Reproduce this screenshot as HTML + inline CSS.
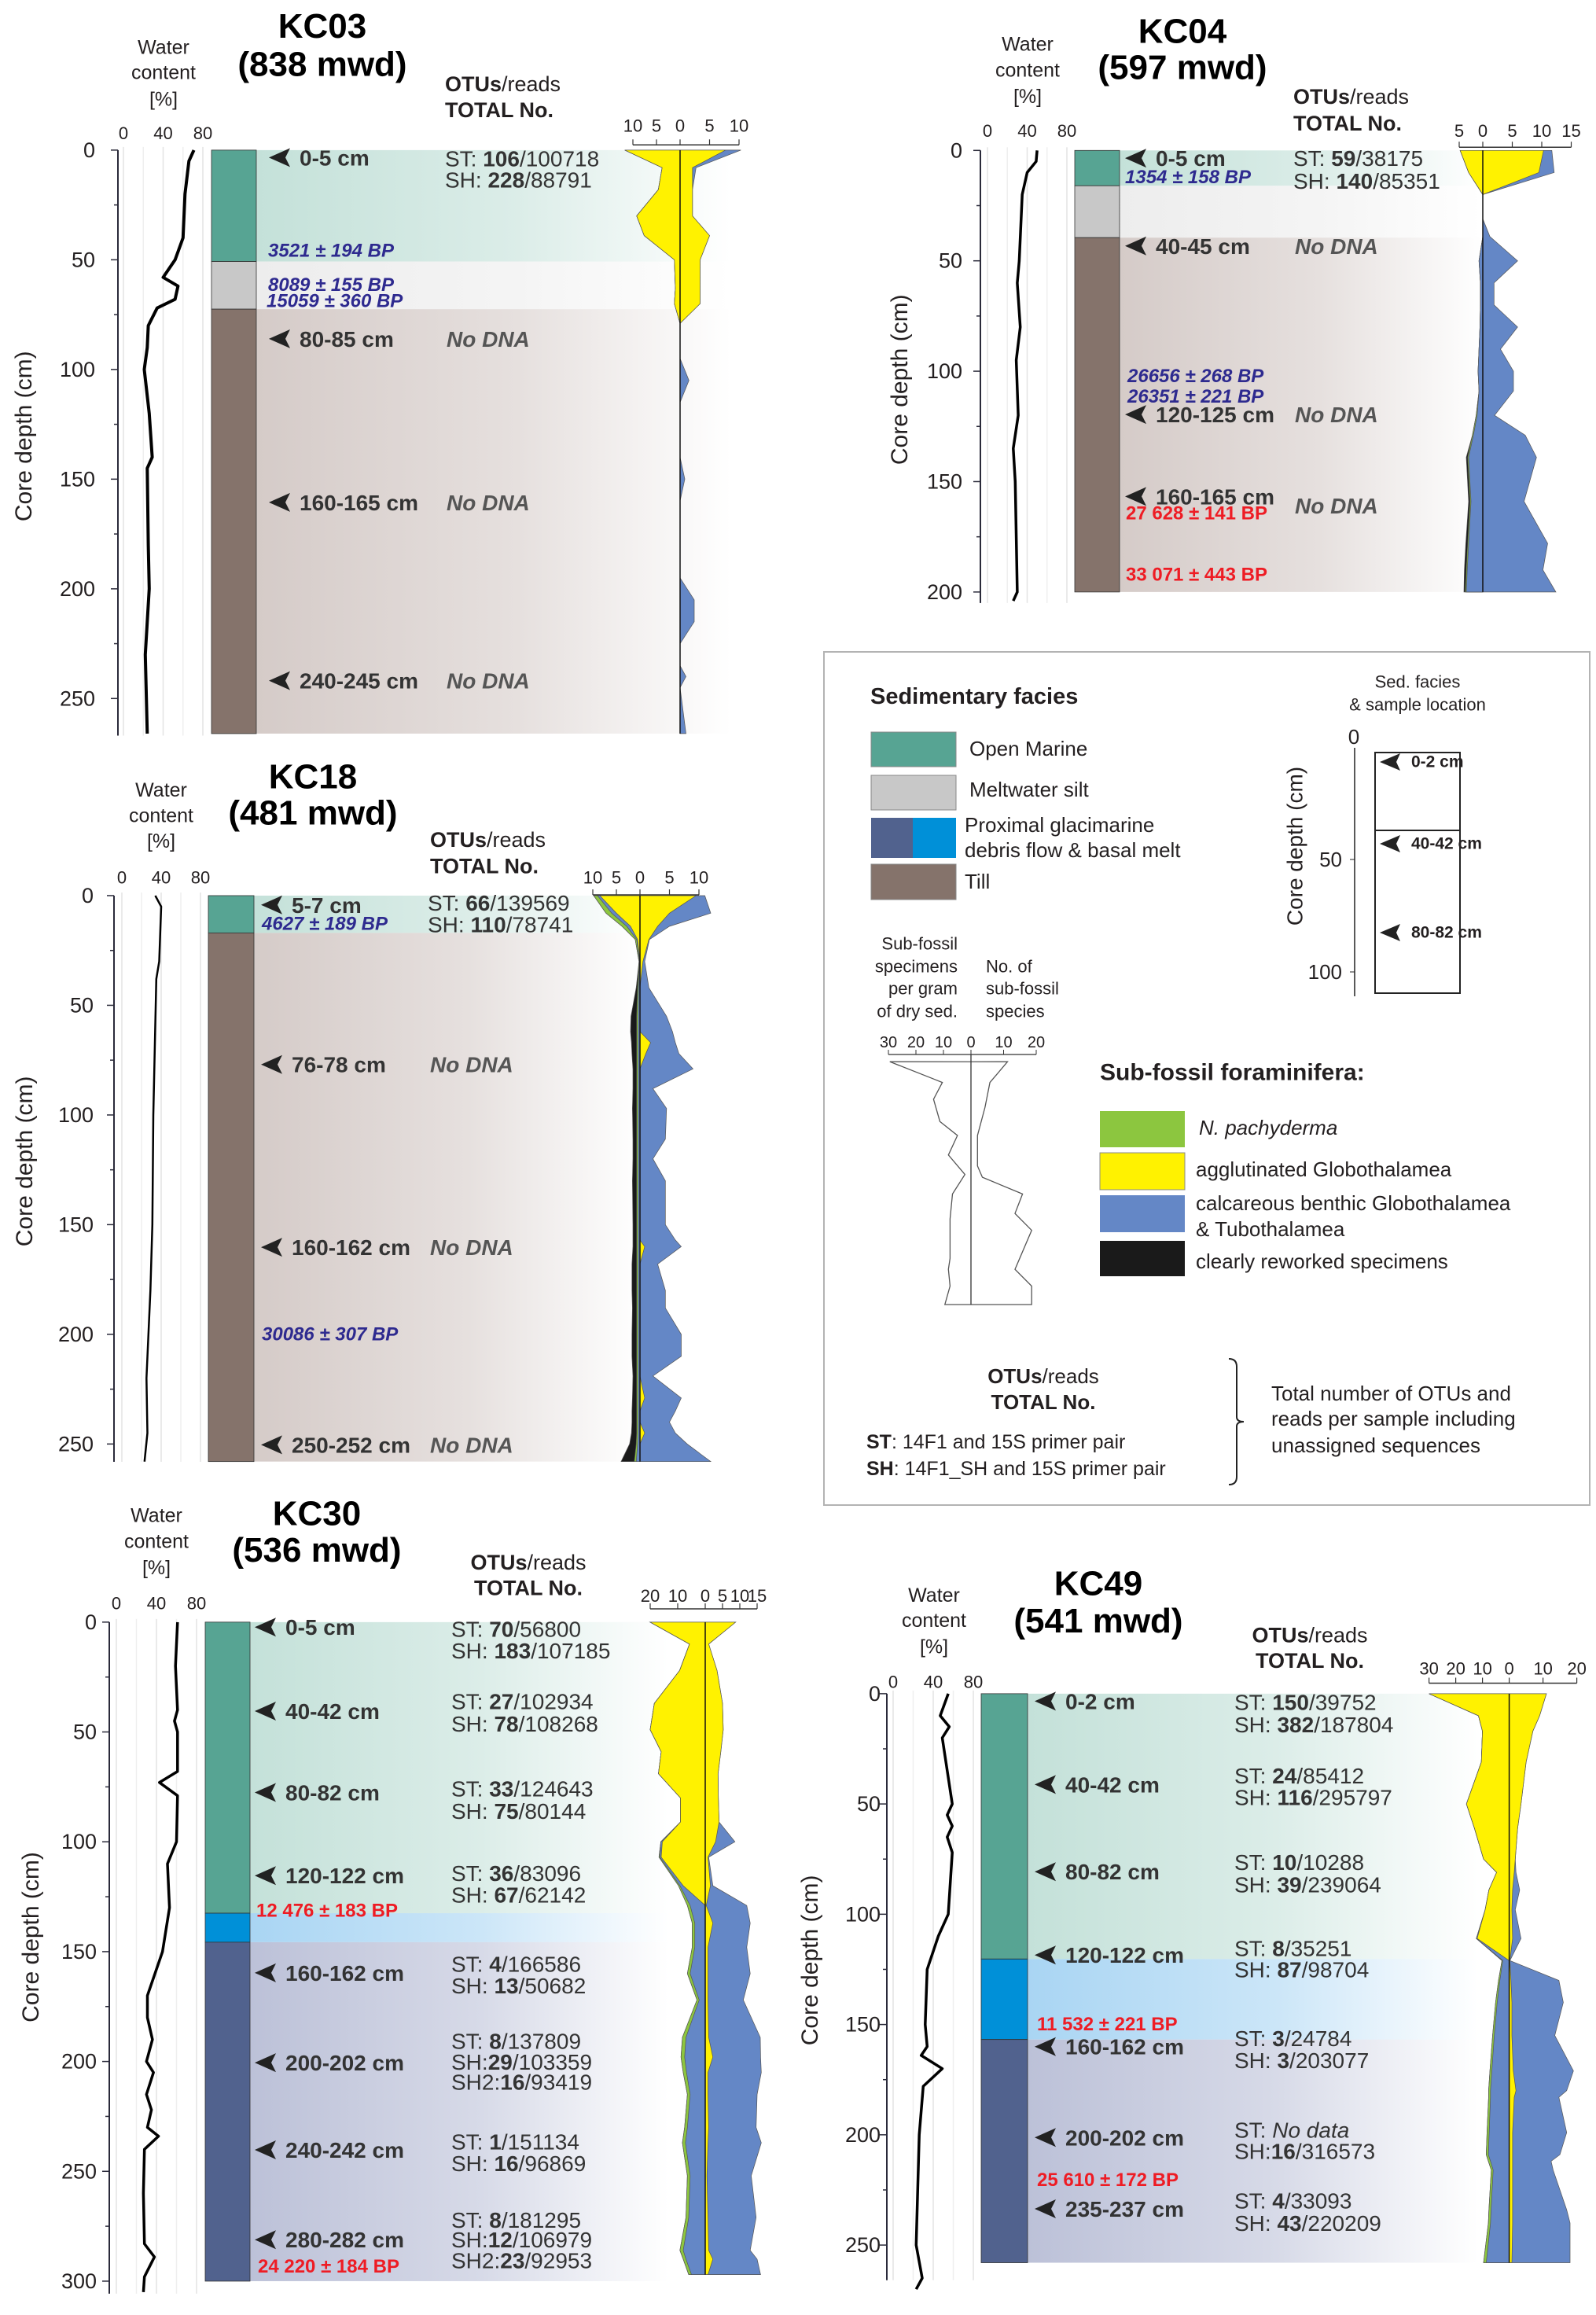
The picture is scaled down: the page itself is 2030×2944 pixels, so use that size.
<!DOCTYPE html>
<html><head><meta charset="utf-8">
<style>body{margin:0;background:#fff}svg{display:block;font-family:"Liberation Sans",Arial,sans-serif}</style>
</head><body>
<svg id="fig" xmlns="http://www.w3.org/2000/svg" width="2030" height="2944" viewBox="0 0 2030 2944">
<defs id="defs"></defs>
<rect x="0" y="0" width="2030" height="2944" fill="#fff"/>
<g id="legend" fill="#231f20">
<rect x="1048" y="829" width="974" height="1085" fill="#fff" stroke="#b3b3b3" stroke-width="2"/>
<text x="1107" y="886" font-size="29" font-weight="bold" dominant-baseline="central">Sedimentary facies</text>
<rect x="1108" y="931" width="108" height="44" fill="#57a493" stroke="#888"/>
<rect x="1108" y="986" width="108" height="44" fill="#c8c8c8" stroke="#888"/>
<rect x="1108" y="1040" width="53" height="51" fill="#51628e"/>
<rect x="1161" y="1040" width="55" height="51" fill="#0090d8"/>
<rect x="1108" y="1099" width="108" height="45" fill="#85736b" stroke="#888"/>
<text x="1233" y="952" font-size="26" dominant-baseline="central">Open Marine</text>
<text x="1233" y="1004" font-size="26" dominant-baseline="central">Meltwater silt</text>
<text x="1227" y="1049" font-size="26" dominant-baseline="central">Proximal glacimarine</text>
<text x="1227" y="1081" font-size="26" dominant-baseline="central">debris flow &amp; basal melt</text>
<text x="1227" y="1121" font-size="26" dominant-baseline="central">Till</text>
<text x="1803" y="867" font-size="22" text-anchor="middle" dominant-baseline="central">Sed. facies</text>
<text x="1803" y="896" font-size="22" text-anchor="middle" dominant-baseline="central">&amp; sample location</text>
<text x="1647" y="1076" font-size="28" text-anchor="middle" dominant-baseline="central" transform="rotate(-90 1647 1076)">Core depth  (cm)</text>
<line x1="1723" y1="951" x2="1723" y2="1267" stroke="#222" stroke-width="1.5"/>
<line x1="1717" y1="1093" x2="1723" y2="1093" stroke="#222"/>
<line x1="1717" y1="1236" x2="1723" y2="1236" stroke="#222"/>
<text x="1722" y="937" font-size="26" text-anchor="middle" dominant-baseline="central">0</text>
<text x="1707" y="1093" font-size="26" text-anchor="end" dominant-baseline="central">50</text>
<text x="1707" y="1236" font-size="26" text-anchor="end" dominant-baseline="central">100</text>
<rect x="1749" y="957" width="108" height="306" fill="none" stroke="#222" stroke-width="2"/>
<line x1="1749" y1="1056" x2="1857" y2="1056" stroke="#222" stroke-width="2"/>
<polygon points="1755,969 1781,958 1776,969 1781,980" fill="#222"/>
<polygon points="1755,1073 1781,1062 1776,1073 1781,1084" fill="#222"/>
<polygon points="1755,1186 1781,1175 1776,1186 1781,1197" fill="#222"/>
<text x="1795" y="969" font-size="21" font-weight="bold" dominant-baseline="central">0-2 cm</text>
<text x="1795" y="1073" font-size="21" font-weight="bold" dominant-baseline="central">40-42 cm</text>
<text x="1795" y="1186" font-size="21" font-weight="bold" dominant-baseline="central">80-82 cm</text>
<g font-size="22" text-anchor="end">
<text x="1218" y="1200" dominant-baseline="central">Sub-fossil</text>
<text x="1218" y="1229" dominant-baseline="central">specimens</text>
<text x="1218" y="1257" dominant-baseline="central">per gram</text>
<text x="1218" y="1286" dominant-baseline="central">of dry sed.</text></g>
<g font-size="22">
<text x="1254" y="1229" dominant-baseline="central">No. of</text>
<text x="1254" y="1257" dominant-baseline="central">sub-fossil</text>
<text x="1254" y="1286" dominant-baseline="central">species</text></g>
<g id="miniChart"></g>
<text x="1399" y="1364" font-size="30" font-weight="bold" dominant-baseline="central">Sub-fossil foraminifera:</text>
<rect x="1399" y="1413" width="108" height="46" fill="#8cc63f"/>
<rect x="1399" y="1466" width="108" height="47" fill="#fff200" stroke="#888"/>
<rect x="1399" y="1520" width="108" height="47" fill="#6487c6"/>
<rect x="1399" y="1578" width="108" height="45" fill="#1a1a1a"/>
<text x="1525" y="1434" font-size="26" font-style="italic" dominant-baseline="central">N. pachyderma</text>
<text x="1521" y="1487" font-size="26" dominant-baseline="central">agglutinated Globothalamea</text>
<text x="1521" y="1530" font-size="26" dominant-baseline="central">calcareous benthic Globothalamea</text>
<text x="1521" y="1563" font-size="26" dominant-baseline="central">&amp; Tubothalamea</text>
<text x="1521" y="1604" font-size="26" dominant-baseline="central">clearly reworked specimens</text>
<text x="1327" y="1750" font-size="26" text-anchor="middle" dominant-baseline="central"><tspan font-weight="bold">OTUs</tspan>/reads</text>
<text x="1327" y="1783" font-size="26" font-weight="bold" text-anchor="middle" dominant-baseline="central">TOTAL No.</text>
<text x="1102" y="1834" font-size="25" dominant-baseline="central"><tspan font-weight="bold">ST</tspan>: 14F1 and 15S primer pair</text>
<text x="1102" y="1868" font-size="25" dominant-baseline="central"><tspan font-weight="bold">SH</tspan>: 14F1_SH and 15S primer pair</text>
<path d="M1563,1728 Q1573,1728 1573,1738 L1573,1802 Q1573,1808 1582,1808 Q1573,1808 1573,1814 L1573,1878 Q1573,1888 1563,1888" fill="none" stroke="#222" stroke-width="2"/>
<text x="1617" y="1772" font-size="26" dominant-baseline="central">Total number of OTUs and</text>
<text x="1617" y="1804" font-size="26" dominant-baseline="central">reads per sample including</text>
<text x="1617" y="1838" font-size="26" dominant-baseline="central">unassigned sequences</text>
</g>
</svg>
<script>
// ===== KC03 data =====
const kc03Depths = [0,8,18,30,39,50,63,70,79,95,105,115,140,150,160,195,205,215,225,235,240,245,266];
const kc03LeftYellow = [11.7,3.8,4.6,9.2,7.6,1.2,1.0,1.2,0,0,0,0,0,0,0,0,0,0,0,0,0,0,0];
const kc03LeftBlue = [0,0,0,0,0,0,0,0,0,0,0,0,0,0,0,0,0,0,0,0,0,0,0];
const kc03LeftGreen = [0,0,0,0,0,0,0,0,0,0,0,0,0,0,0,0,0,0,0,0,0,0,0];
const kc03LeftBlack = [0,0,0,0,0,0,0,0,0,0,0,0,0,0,0,0,0,0,0,0,0,0,0];
const kc03RightYellow = [7.7,2.1,2.1,2.1,5,3.4,3.4,3.4,0,0,0,0,0,0,0,0,0,0,0,0,0,0,0];
const kc03RightBlue = [2.6,0.6,0,0,0,0,0,0,0,0,1.5,0,0,0.8,0,0,2.4,2.4,0,0,1,0,1];
const kc03WaterDepth = [0,5,20,40,50,58,62,68,72,80,90,100,120,140,145,180,200,230,266];
const kc03Water = [71,66,62,60,52,40,55,52,34,25,24,21,26,29,24,25,26,22,24];
// ===== KC04 data =====
const kc04Depths = [0,10,20,31,39,50,60,70,80,90,100,109,120,129,139,159,178,190,200];
const kc04LeftYellow = [4.8,3,0,0,0,0,0,0,0,0,0,0,0,0,0,0,0,0,0];
const kc04LeftBlue = [0,0,0,0,0,0.8,0.5,0.5,0.6,0.8,1,0.8,1.2,2,3,2.5,3,3.3,3.5];
const kc04LeftGreen = [0,0,0,0,0,0,0,0,0,0,0,0,0.2,0.2,0.2,0.2,0.2,0.2,0.2];
const kc04LeftBlack = [0,0,0,0,0,0,0,0,0,0,0,0,0,0,0.3,0.3,0.4,0.4,0.3];
const kc04RightYellow = [10.3,9.5,0,0,0,0,0,0,0,0,0,0,0,0,0,0,0,0,0];
const kc04RightBlue = [1.4,2.6,0,0,1.2,5.9,1.9,1.9,5.9,3,5.2,5.2,2,7.2,9.1,7,11,10.2,12.4];
const kc04WaterDepth = [0,5,10,20,50,60,80,95,120,135,150,200,204];
const kc04Water = [50,49,40,35,32,30,33,29,31,26,28,30,26];
// ===== KC18 data =====
const kc18Depths = [0,8,14,20,30,42,55,62,67,72,79,88,97,111,120,130,150,157,160,168,180,188,200,210,219,229,235,240,245,250,258];
const kc18LeftYellow = [8.5,5,2,0.5,0,0,0,0,0,0,0,0,0,0,0,0,0,0,0,0,0,0,0,0,0,0,0,0,0,0,0];
const kc18LeftBlue = [0.5,1,0.8,0.2,0.1,0.3,0.4,0.4,0.4,0.4,0.4,0.4,0.4,0.4,0.4,0.4,0.4,0.4,0.4,0.4,0.4,0.4,0.4,0.4,0.4,0.4,0.4,0.4,0.4,0.5,0.8];
const kc18LeftGreen = [0.8,1.2,1,0.3,0.1,0.2,0.3,0.3,0.3,0.3,0.3,0.3,0.3,0.3,0.3,0.3,0.3,0.3,0.3,0.3,0.3,0.3,0.3,0.3,0.3,0.3,0.3,0.3,0.3,0.3,0.4];
const kc18LeftBlack = [0,0,0,0,0,0.3,1.2,1.3,1.1,1,0.8,0.8,0.9,0.8,0.8,0.9,0.8,0.8,0.8,1,1,0.9,1,1,0.8,0.9,1,1,1.1,1.4,2.8];
const kc18RightYellow = [9.5,5,3,1.5,0.5,0,0,0,1.8,1,0,0,0,0,0,0,0,0,0.8,0,0,0,0,0,0,0.8,0,0,0.8,0,0];
const kc18RightBlue = [1.5,7,2,0.1,0.3,1.5,4.5,5.5,4.2,5.6,9,2.2,4.5,4.3,2.2,4.3,4.3,6,6.2,3,4.3,4.3,7,7,2.2,6.2,6,5,5.2,8,12];
const kc18WaterDepth = [0,5,30,38,100,150,180,220,245,258];
const kc18Water = [34,40,38,35,32,31,29,25,26,23];
// ===== KC30 data =====
const kc30Depths = [0,10,22,37,49,59,69,80,91,100,107,120,129,137,148,160,172,189,198,205,215,230,237,252,271,286,290,297];
const kc30LeftYellow = [20,5.7,9.3,18.5,20,16,17,9,9,15.6,16,8,0,0,0,0,0,0,0,0,0,0,0,0,0,0,0,0];
const kc30LeftBlue = [0,0,0,0,0,0,0,0,0,0.5,0.5,1.2,5.5,3.8,3.8,5.5,2.2,7,7.5,6.8,5.5,6.5,7.2,5.5,6,8,7,5];
const kc30LeftGreen = [0,0,0,0,0,0,0,0,0,0,0.3,0.5,1,0.9,0.9,1,0.8,1.3,1.3,1.2,1,1,1.1,1,1,1.2,1,1];
const kc30LeftBlack = [0,0,0,0,0,0,0,0,0,0,0,0,0,0,0,0,0,0,0,0,0,0,0,0,0,0,0,0];
const kc30RightYellow = [8.8,1,3.4,5,5.2,4.5,3.7,3.8,4,3,0.8,1.5,0.3,2.2,0.8,0.8,0.8,1,2.2,0.8,0.8,1,0.8,0.5,0.8,1,2.2,0.8];
const kc30RightBlue = [0,0,0,0,0,0,0,0,0,5.6,0.2,0.7,11.7,10.8,11.2,12.2,10.2,14.9,13.8,15.4,14.2,13.7,15.4,12.8,13.9,12,12.8,15.2];
const kc30WaterDepth = [0,20,40,45,50,68,73,79,100,110,130,150,170,180,190,200,205,215,222,230,234,240,260,283,289,298,305];
const kc30Water = [61,59,61,58,61,61,43,61,60,51,53,46,31,31,36,30,37,30,35,31,42,28,27,28,38,28,27];
// ===== KC49 data =====
const kc49Depths = [0,10,17,31,50,61,75,81,89,98,111,121,130,140,155,171,180,183,199,209,212,216,234,240,258];
const kc49LeftYellow = [30,11.5,10,10.4,16,13,9.6,4.7,7.6,9,12,0,0,0,0,0,0,0,0,0,0,0,0,0,0];
const kc49LeftBlue = [0,0,0,0,0,0,0,0,0,0,0.3,2.4,3.5,4.5,5.6,6.5,7,7,7.5,7.8,7,6,6.8,7,8.6];
const kc49LeftGreen = [0,0,0,0,0,0,0,0,0,0,0,0.3,0.5,0.6,0.6,0.7,0.7,0.7,0.8,0.8,0.8,0.7,0.8,0.8,1];
const kc49LeftBlack = [0,0,0,0,0,0,0,0,0,0,0,0,0,0,0,0,0,0,0,0,0,0,0,0,0];
const kc49RightYellow = [11,9,7,5,3.5,2.5,1.8,1.5,1,0.8,1,0.2,0.5,0.8,0.8,1.2,2,1.5,1,1,1,1,1,1,0.8];
const kc49RightBlue = [0,0,0,0,0,0,0,0.5,2.1,1,2.5,0,14.2,15.2,12.7,17.8,15,13.2,16,14,11.4,12,16,17,17.2];
const kc49WaterDepth = [0,10,15,20,50,55,60,65,72,100,110,125,150,160,164,170,178,200,250,265,270];
const kc49Water = [55,47,56,49,59,54,59,54,59,55,45,34,32,34,28,49,30,26,23,29,23];
// ===== Legend mini chart data =====
const miniLeftDepth = [2.9,10,11.2,17.9,26.8,32.4,40.2,48,55.8,65.8,81.5,85.9,92.6,100];
const miniLeftValue = [29.5,13.1,10.4,13.6,11.3,4.9,8.2,2.2,6.7,7.6,7.6,8.2,7.6,9.5];
const miniRightDepth = [2.9,11.2,21.2,32.4,44.6,49.1,55.8,63.6,70.3,85.9,92.6,100];
const miniRightValue = [11.2,5.8,4.3,2,2,3.5,15.8,13.5,18.6,13.5,18.6,18.6];
const miniLeftTicks = [30,20,10,0];
const miniRightTicks = [10,20];

const NS = 'http://www.w3.org/2000/svg';
const svg = document.getElementById('fig');
const defs = document.getElementById('defs');
function mk(tag, parent, attrs) {
  const e = document.createElementNS(NS, tag);
  for (const k in attrs) e.setAttribute(k, attrs[k]);
  parent.appendChild(e);
  return e;
}
function label(parent, x, y, str, size, o, name) {
  const e = mk('text', parent, {x: x, y: y, 'font-size': size, 'dominant-baseline': 'central',
    'text-anchor': o.anchor || 'start', 'font-weight': o.weight || 'normal',
    'font-style': o.style || 'normal', fill: o.fill || '#231f20'});
  if (o.rot) e.setAttribute('transform', 'rotate(-90 ' + x + ' ' + y + ')');
  str.split('**').forEach(function (s, i) {
    if (!s) return;
    const t = mk('tspan', e, {});
    if (i % 2) t.setAttribute('font-weight', 'bold');
    if (s === 'No data') { t.setAttribute('font-style', 'italic'); t.setAttribute('font-weight', 'normal'); }
    t.textContent = s;
  });
  
  
  return e;
}
function fixY(c, cy, r) {
  const f = function (y) { return cy + (y - cy) * r; };
  c.y0 = f(c.y0); c.ppc *= r; c.axBottom = Math.min(2944, f(c.axBottom));
  c.yLabelY = f(c.yLabelY); c.wTickY = f(c.wTickY); c.fTickY = f(c.fTickY); c.fAxisY = f(c.fAxisY);
  c.wTitleY = c.wTitleY.map(f); c.titleY = c.titleY.map(f); c.otuY = c.otuY.map(f); c.noDNA = c.noDNA.map(f);
  c.samples.forEach(function (s) { s[1] = f(s[1]); });
  c.dates.forEach(function (s) { s[2] = f(s[2]); });
  c.reads.forEach(function (s) { s[1] = f(s[1]); });
  return c;
}
const faciesColor = {om: '#57a493', mw: '#c8c8c8', till: '#85736b', pb: '#0090d8', pd: '#51628e'};
const bandColor = {om: '#c4e1d9', mw: '#ededed', till: '#d5cbc8', pb: '#a9d5f3', pd: '#bcc1d8'};
const faciesName = {om: 'open-marine', mw: 'meltwater-silt', till: 'till', pb: 'basal-melt', pd: 'proximal-debris-flow'};
const foramColor = {yellow: '#fff200', blue: '#6487c6', green: '#8cc63f', black: '#1a1a1a'};

function stackPolys(g, c, depths, series, side, scale, Y) {
  const cum = [];
  let run = depths.map(function () { return 0; });
  series.forEach(function (s) { run = run.map(function (v, i) { return v + s.vals[i]; }); cum.push(run); });
  for (let k = series.length - 1; k >= 0; k--) {
    const pts = depths.map(function (d, i) { return (c.zero + side * cum[k][i] * scale).toFixed(1) + ',' + Y(d).toFixed(1); });
    pts.push(c.zero + ',' + Y(depths[depths.length - 1]).toFixed(1));
    pts.push(c.zero + ',' + Y(depths[0]).toFixed(1));
    const p = mk('polygon', g, {points: pts.join(' '), fill: foramColor[series[k].color], stroke: '#555', 'stroke-width': 0.7});
    
    
  }
}

function drawCore(c) {
  const g = mk('g', svg, {});
  
  
  const Y = function (d) { return c.y0 + d * c.ppc; };
  const fs = c.fs || 1;
  c.facies.forEach(function (f, i) {
    const gid = c.id + 'g' + i;
    const lg = mk('linearGradient', defs, {id: gid, x1: c.coreR, x2: c.bgR, y1: 0, y2: 0, gradientUnits: 'userSpaceOnUse'});
    mk('stop', lg, {offset: 0, 'stop-color': bandColor[f[2]], 'stop-opacity': 1});
    mk('stop', lg, {offset: 0.55, 'stop-color': bandColor[f[2]], 'stop-opacity': 0.6});
    mk('stop', lg, {offset: 1, 'stop-color': bandColor[f[2]], 'stop-opacity': 0});
    const b = mk('rect', g, {x: c.coreR, y: Y(f[0]), width: c.bgR - c.coreR, height: Y(f[1]) - Y(f[0]), fill: 'url(#' + gid + ')'});
    
    
    const r = mk('rect', g, {x: c.coreL, y: Y(f[0]), width: c.coreR - c.coreL, height: Y(f[1]) - Y(f[0]), fill: faciesColor[f[2]], stroke: '#333', 'stroke-width': 0.8});
    
    
  });
  const ax = mk('line', g, {x1: c.ax, y1: Y(0), x2: c.ax, y2: c.axBottom, stroke: '#2a2a3a', 'stroke-width': 2});
  
  
  for (let d = 0; d <= c.dmax; d += 25) {
    const major = d % 50 === 0;
    const t = mk('line', g, {x1: c.ax - (major ? 9 : 5), y1: Y(d), x2: c.ax, y2: Y(d), stroke: '#2a2a3a', 'stroke-width': 1.5});
    
    
  }
  c.depthTicks.forEach(function (d) {
    label(g, c.tickR, Y(d), String(d), 27 * fs, {anchor: 'end'}, c.id + '-depth-tick-label');
  });
  label(g, c.yLabelX, c.yLabelY, 'Core depth  (cm)', 30 * fs, {anchor: 'middle', rot: true}, c.id + '-depth-axis-title');
  const wx = function (v) { return c.wx0 + v / 80 * (c.wx80 - c.wx0); };
  [0, 20, 40, 60, 80].forEach(function (v) {
    const l = mk('line', g, {x1: wx(v), y1: Y(0) - 4, x2: wx(v), y2: c.axBottom, stroke: v % 40 === 0 ? '#e4e4e4' : '#efefef', 'stroke-width': 1.5});
    
    
  });
  [0, 40, 80].forEach(function (v) {
    label(g, wx(v), c.wTickY, String(v), 22 * fs, {anchor: 'middle'}, c.id + '-water-tick-label');
  });
  c.wTitle.forEach(function (s, i) {
    label(g, c.wTitleX, c.wTitleY[i], s, 25 * fs, {anchor: 'middle'}, c.id + '-water-title');
  });
  const wp = mk('polyline', g, {points: c.waterD.map(function (d, i) { return wx(c.waterV[i]).toFixed(1) + ',' + Y(d).toFixed(1); }).join(' '), fill: 'none', stroke: '#000', 'stroke-width': c.wStroke || 3.5, 'stroke-linejoin': 'round'});
  
  
  stackPolys(g, c, c.depths, [{color: 'yellow', vals: c.ly}, {color: 'blue', vals: c.lb}, {color: 'green', vals: c.lg}, {color: 'black', vals: c.lk}], -1, c.lScale, Y);
  stackPolys(g, c, c.depths, [{color: 'yellow', vals: c.ry}, {color: 'blue', vals: c.rb}], 1, c.rScale, Y);
  const z = mk('line', g, {x1: c.zero, y1: Y(0), x2: c.zero, y2: Y(c.depths[c.depths.length - 1]), stroke: '#111', 'stroke-width': 1.5});
  
  
  const xl = c.zero - c.lTicks[0] * c.lScale, xr = c.zero + c.rTicks[c.rTicks.length - 1] * c.rScale;
  const fa = mk('line', g, {x1: xl, y1: c.fAxisY, x2: xr, y2: c.fAxisY, stroke: '#333', 'stroke-width': 1.5});
  
  
  const tk = [];
  c.lTicks.forEach(function (v) { tk.push([c.zero - v * c.lScale, v]); });
  tk.push([c.zero, 0]);
  c.rTicks.forEach(function (v) { tk.push([c.zero + v * c.rScale, v]); });
  tk.forEach(function (t) {
    const l = mk('line', g, {x1: t[0], y1: c.fAxisY - 7, x2: t[0], y2: c.fAxisY, stroke: '#333', 'stroke-width': 1.2});
    
    
    label(g, t[0], c.fTickY, String(t[1]), 22 * fs, {anchor: 'middle'}, c.id + '-foram-tick-label');
  });
  label(g, c.titleX, c.titleY[0], c.title[0], 44 * fs, {anchor: 'middle', weight: 'bold', fill: '#000'}, c.id + '-title');
  label(g, c.titleX, c.titleY[1], c.title[1], 44 * fs, {anchor: 'middle', weight: 'bold', fill: '#000'}, c.id + '-water-depth');
  c.samples.forEach(function (s) {
    const tx = c.sampleX - 39, cy = s[1];
    const a = mk('polygon', g, {points: tx + ',' + cy + ' ' + (tx + 27) + ',' + (cy - 12) + ' ' + (tx + 21) + ',' + cy + ' ' + (tx + 27) + ',' + (cy + 12), fill: '#222'});
    
    
    label(g, c.sampleX, cy, s[0], 28 * fs, {weight: 'bold', fill: '#333'}, c.id + '-sample-label');
  });
  c.noDNA.forEach(function (y) {
    label(g, c.noDNAX, y, 'No DNA', 28 * fs, {weight: 'bold', style: 'italic', fill: '#555'}, c.id + '-no-dna-label');
  });
  c.dates.forEach(function (d) {
    label(g, d[1], d[2], d[0], 24 * fs, d[3] ? {weight: 'bold', fill: '#ee1c24'} : {weight: 'bold', style: 'italic', fill: '#2e2a8f'}, c.id + '-date-label');
  });
  label(g, c.otuX, c.otuY[0], '**OTUs**/reads', 27 * fs, {anchor: c.otuAnchor}, c.id + '-otus-header');
  label(g, c.otuX, c.otuY[1], '**TOTAL No.**', 27 * fs, {anchor: c.otuAnchor}, c.id + '-total-header');
  c.reads.forEach(function (r) {
    label(g, c.readsX, r[1], r[0], 28 * fs, {fill: '#333'}, c.id + '-reads-label');
  });
}

drawCore(fixY({id: 'kc03', y0: 202, ppc: 2.952, dmax: 266, axBottom: 990, ax: 150, depthTicks: [0,50,100,150,200,250], tickR: 121,
  yLabelX: 30, yLabelY: 587, wx0: 157, wx80: 258, wTickY: 179, wTitleX: 208, wTitleY: [64,98,134], wTitle: ['Water','content','[%]'],
  titleX: 410, titleY: [35,86], title: ['KC03','(838 mwd)'], coreL: 269, coreR: 326, bgR: 930,
  facies: [[0,50.8,'om'],[50.8,72.5,'mw'],[72.5,266,'till']],
  zero: 865, lScale: 6, rScale: 7.5, fTickY: 169, fAxisY: 195, lTicks: [10,5], rTicks: [5,10],
  depths: kc03Depths, ly: kc03LeftYellow, lb: kc03LeftBlue, lg: kc03LeftGreen, lk: kc03LeftBlack, ry: kc03RightYellow, rb: kc03RightBlue,
  waterD: kc03WaterDepth, waterV: kc03Water, wStroke: 4,
  sampleX: 381, samples: [['0-5 cm',212],['80-85 cm',456],['160-165 cm',676],['240-245 cm',916]],
  noDNAX: 568, noDNA: [456,676,916],
  dates: [['3521 ± 194 BP',341,337],['8089 ± 155 BP',341,383],['15059 ± 360 BP',339,405]],
  otuX: 566, otuY: [113,148], otuAnchor: 'start', readsX: 566, reads: [['ST: **106**/100718',213],['SH: **228**/88791',242]]}, 0, 0.945));

drawCore(fixY({id: 'kc04', y0: 233, ppc: 3.42, dmax: 205, axBottom: 934, ax: 1247, depthTicks: [0,50,100,150,200], tickR: 1224,
  yLabelX: 1144, yLabelY: 588, wx0: 1256, wx80: 1357, wTickY: 202, wTitleX: 1307, wTitleY: [69,109,150], wTitle: ['Water','content','[%]'],
  titleX: 1504, titleY: [48,104], title: ['KC04','(597 mwd)'], coreL: 1367, coreR: 1424, bgR: 1885,
  facies: [[0,16,'om'],[16,39.5,'mw'],[39.5,200,'till']],
  zero: 1886, lScale: 6, rScale: 7.5, fTickY: 202, fAxisY: 228, lTicks: [5], rTicks: [5,10,15],
  depths: kc04Depths, ly: kc04LeftYellow, lb: kc04LeftBlue, lg: kc04LeftGreen, lk: kc04LeftBlack, ry: kc04RightYellow, rb: kc04RightBlue,
  waterD: kc04WaterDepth, waterV: kc04Water, wStroke: 3.5,
  sampleX: 1470, samples: [['0-5 cm',245],['40-45 cm',381],['120-125 cm',642],['160-165 cm',769]],
  noDNAX: 1647, noDNA: [381,642,783],
  dates: [['1354 ± 158 BP',1431,274],['26656 ± 268 BP',1434,582],['26351 ± 221 BP',1434,614],['27 628 ± 141 BP',1432,795,true],['33 071 ± 443 BP',1432,890,true]],
  otuX: 1645, otuY: [150,191], otuAnchor: 'start', readsX: 1645, reads: [['ST: **59**/38175',245],['SH: **140**/85351',280]]}, 0, 0.821));

drawCore(fixY({id: 'kc18', y0: 1142, ppc: 2.832, dmax: 258, axBottom: 1873, ax: 145, depthTicks: [0,50,100,150,200,250], tickR: 119,
  yLabelX: 31, yLabelY: 1485, wx0: 155, wx80: 255, wTickY: 1118, wTitleX: 205, wTitleY: [1006,1039,1072], wTitle: ['Water','content','[%]'],
  titleX: 398, titleY: [988,1035], title: ['KC18','(481 mwd)'], coreL: 265, coreR: 323, bgR: 815,
  facies: [[0,17,'om'],[17,258,'till']],
  zero: 814, lScale: 6, rScale: 7.5, fTickY: 1118, fAxisY: 1141, lTicks: [10,5], rTicks: [5,10],
  depths: kc18Depths, ly: kc18LeftYellow, lb: kc18LeftBlue, lg: kc18LeftGreen, lk: kc18LeftBlack, ry: kc18RightYellow, rb: kc18RightBlue,
  waterD: kc18WaterDepth, waterV: kc18Water, wStroke: 2.5,
  sampleX: 371, samples: [['5-7 cm',1154],['76-78 cm',1360],['160-162 cm',1596],['250-252 cm',1851]],
  noDNAX: 547, noDNA: [1360,1596,1851],
  dates: [['4627 ± 189 BP',333,1178],['30086 ± 307 BP',333,1708]],
  otuX: 547, otuY: [1070,1104], otuAnchor: 'start', readsX: 544, reads: [['ST: **66**/139569',1151],['SH: **110**/78741',1179]]}, 940, 0.985));

drawCore(fixY({id: 'kc30', y0: 2053, ppc: 2.643, dmax: 305, axBottom: 2861, ax: 139, depthTicks: [0,50,100,150,200,250,300], tickR: 123,
  yLabelX: 39, yLabelY: 2432, wx0: 148, wx80: 250, wTickY: 2030, wTitleX: 199, wTitleY: [1925,1956,1988], wTitle: ['Water','content','[%]'],
  titleX: 403, titleY: [1922,1966], title: ['KC30','(536 mwd)'], coreL: 261, coreR: 318, bgR: 850,
  facies: [[0,132.5,'om'],[132.5,145.7,'pb'],[145.7,300,'pd']],
  zero: 897, lScale: 3.5, rScale: 4.4, fTickY: 2021, fAxisY: 2037, lTicks: [20,10], rTicks: [5,10,15],
  depths: kc30Depths, ly: kc30LeftYellow, lb: kc30LeftBlue, lg: kc30LeftGreen, lk: kc30LeftBlack, ry: kc30RightYellow, rb: kc30RightBlue,
  waterD: kc30WaterDepth, waterV: kc30Water, wStroke: 3.5,
  sampleX: 363, samples: [['0-5 cm',2059],['40-42 cm',2160],['80-82 cm',2258],['120-122 cm',2358],['160-162 cm',2475],['200-202 cm',2583],['240-242 cm',2688],['280-282 cm',2796]],
  noDNAX: 0, noDNA: [],
  dates: [['12 476 ± 183 BP',326,2400,true],['24 220 ± 184 BP',328,2828,true]],
  otuX: 672, otuY: [1981,2012], otuAnchor: 'middle', readsX: 574,
  reads: [['ST: **70**/56800',2061],['SH: **183**/107185',2087],['ST: **27**/102934',2148],['SH: **78**/108268',2175],['ST: **33**/124643',2253],['SH: **75**/80144',2280],['ST: **36**/83096',2355],['SH: **67**/62142',2381],['ST: **4**/166586',2464],['SH: **13**/50682',2490],['ST: **8**/137809',2557],['SH:**29**/103359',2582],['SH2:**16**/93419',2606],['ST: **1**/151134',2678],['SH: **16**/96869',2704],['ST: **8**/181295',2772],['SH:**12**/106979',2796],['SH2:**23**/92953',2821]]}, 1880, 1.057));

drawCore(fixY({id: 'kc49', y0: 2163, ppc: 2.937, dmax: 270, axBottom: 2944, ax: 1128, depthTicks: [0,50,100,150,200,250], tickR: 1120,
  yLabelX: 1030, yLabelY: 2518, wx0: 1136, wx80: 1238, wTickY: 2147, wTitleX: 1188, wTitleY: [2032,2066,2101], wTitle: ['Water','content','[%]'],
  titleX: 1397, titleY: [2016,2066], title: ['KC49','(541 mwd)'], coreL: 1248, coreR: 1307, bgR: 1880,
  facies: [[0,120.3,'om'],[120.3,156.8,'pb'],[156.8,258,'pd']],
  zero: 1919.6, lScale: 3.4, rScale: 4.3, fTickY: 2129, fAxisY: 2149, lTicks: [30,20,10], rTicks: [10,20],
  depths: kc49Depths, ly: kc49LeftYellow, lb: kc49LeftBlue, lg: kc49LeftGreen, lk: kc49LeftBlack, ry: kc49RightYellow, rb: kc49RightBlue,
  waterD: kc49WaterDepth, waterV: kc49Water, wStroke: 3.5,
  sampleX: 1355, samples: [['0-2 cm',2173],['40-42 cm',2284],['80-82 cm',2400],['120-122 cm',2511],['160-162 cm',2633],['200-202 cm',2754],['235-237 cm',2849]],
  noDNAX: 0, noDNA: [],
  dates: [['11 532 ± 221 BP',1319,2603,true],['25 610 ± 172 BP',1319,2810,true]],
  otuX: 1666, otuY: [2085,2119], otuAnchor: 'middle', readsX: 1570,
  reads: [['ST: **150**/39752',2174],['SH: **382**/187804',2204],['ST: **24**/85412',2272],['SH: **116**/295797',2301],['ST: **10**/10288',2387],['SH: **39**/239064',2417],['ST: **8**/35251',2502],['SH: **87**/98704',2530],['ST: **3**/24784',2622],['SH: **3**/203077',2651],['ST: **No data**',2744],['SH:**16**/316573',2772],['ST: **4**/33093',2838],['SH: **43**/220209',2868]]}, 1960, 0.955));

(function () {
  const g = document.getElementById('miniChart');
  const zero = 1235, top = 1341, ppu = 3.18, ls = 3.5, rs = 4.15;
  const Y = function (d) { return top + d * ppu; };
  const ax = mk('line', g, {x1: zero - 30 * ls, y1: top, x2: zero + 20 * rs, y2: top, stroke: '#333', 'stroke-width': 1.3});
  
  
  miniLeftTicks.forEach(function (v) {
    const x = zero - v * ls;
    const t = mk('line', g, {x1: x, y1: top - 6, x2: x, y2: top, stroke: '#333'});
    
    
    label(g, x, 1326, String(v), 20, {anchor: 'middle'}, 'mini-chart-tick-label');
  });
  miniRightTicks.forEach(function (v) {
    const x = zero + v * rs;
    const t = mk('line', g, {x1: x, y1: top - 6, x2: x, y2: top, stroke: '#333'});
    
    
    label(g, x, 1326, String(v), 20, {anchor: 'middle'}, 'mini-chart-tick-label');
  });
  const lp = [zero + ',' + Y(miniLeftDepth[0])].concat(miniLeftDepth.map(function (d, i) { return (zero - miniLeftValue[i] * ls).toFixed(1) + ',' + Y(d).toFixed(1); }));
  lp.push(zero + ',' + Y(100));
  const l = mk('polyline', g, {points: lp.join(' '), fill: 'none', stroke: '#555', 'stroke-width': 1.3});
  
  
  const rp = [zero + ',' + Y(miniRightDepth[0])].concat(miniRightDepth.map(function (d, i) { return (zero + miniRightValue[i] * rs).toFixed(1) + ',' + Y(d).toFixed(1); }));
  rp.push(zero + ',' + Y(100));
  const r = mk('polyline', g, {points: rp.join(' '), fill: 'none', stroke: '#555', 'stroke-width': 1.3});
  
  
  const z = mk('line', g, {x1: zero, y1: top, x2: zero, y2: Y(100), stroke: '#333', 'stroke-width': 1.3});
  
  
})();
</script>
</body></html>
